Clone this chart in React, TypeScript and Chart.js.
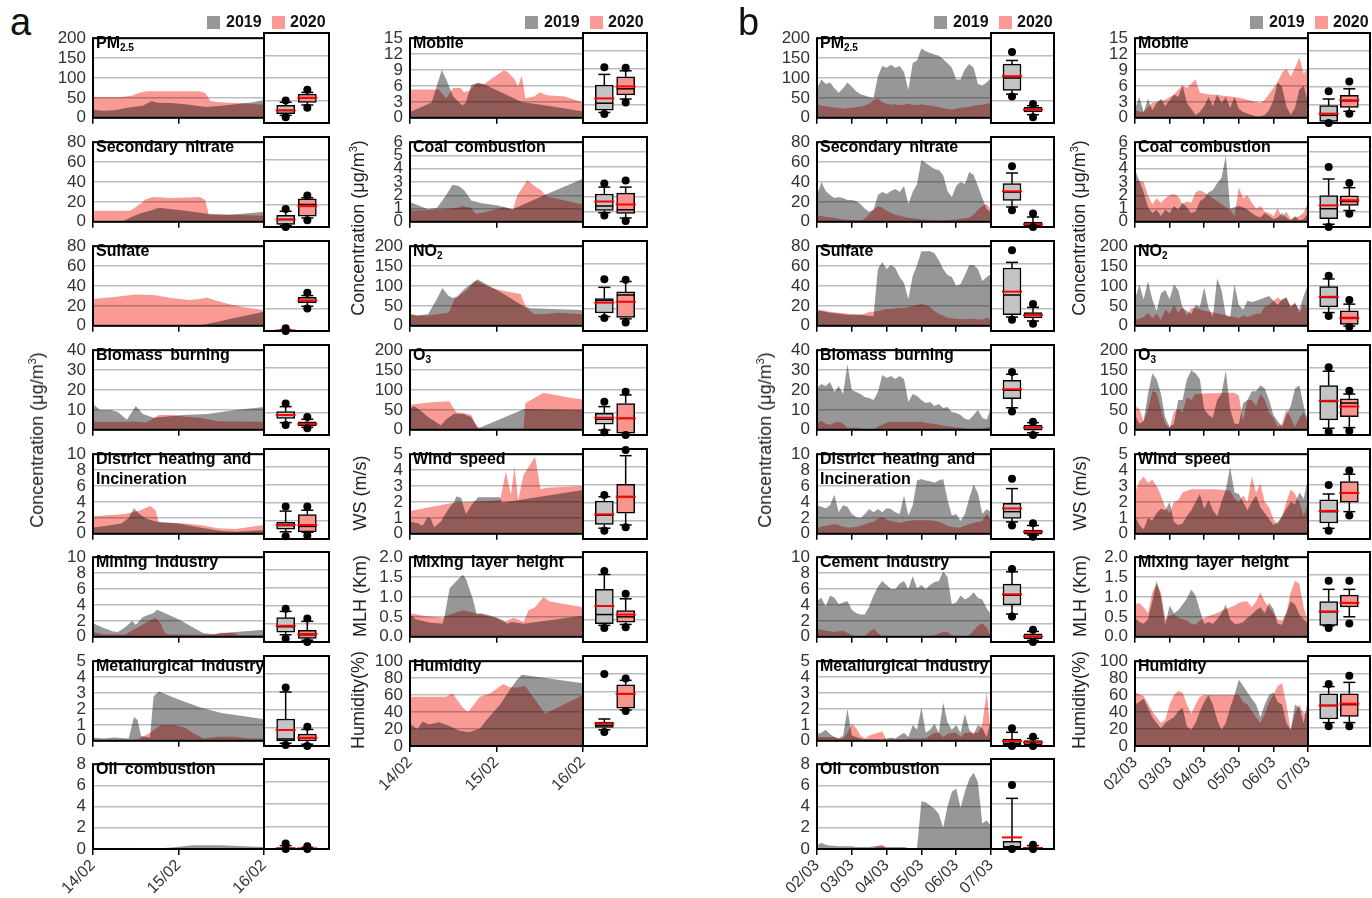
import React, { useEffect, useRef } from 'react';
import { Chart, registerables } from 'chart.js';

Chart.register(...registerables);

const FONT = '"Liberation Sans", Arial, Helvetica, sans-serif';
Chart.defaults.font.family = FONT;

// ---------- axis labels ----------
const A_X_LABELS = ['14/02', '15/02', '16/02'];
const B_X_LABELS = ['02/03', '03/03', '04/03', '05/03', '06/03', '07/03'];
const LEGEND = ['2019', '2020'];

// ---------- (a) series: [hour, value] ----------
const A_PM25_2019 = [[0,20],[3,18],[6,19],[10,26],[14,30],[16.5,42],[18,38],[22,37],[26,34],[30,29],[32,27],[36,30],[40,34],[44,38],[48,45]];
const A_PM25_2020 = [[0,52],[8,52],[11,56],[13,63],[15,67],[30,67],[31.5,62],[33,42],[35,40],[38,38],[42,37],[48,33]];
const A_NIT_2019 = [[0,0],[8,0],[11,5],[13,8],[16,11],[18.5,14],[21,13],[26,11],[32,8],[38,7],[42,8],[48,10]];
const A_NIT_2020 = [[0,11],[10.5,11],[12,15],[15,23],[17,25],[22,24],[30,25],[31.5,22],[32.5,7],[40,7],[48,6]];
const A_SUL_2019 = [[0,0],[28,0],[31,1],[35,4],[40,8],[44,11],[48,14]];
const A_SUL_2020 = [[0,27],[6,29],[12,31.5],[17,31],[22,28],[27,26],[30,27],[32,28.5],[34,26],[38,22],[42,19],[48,16]];
const A_BIO_2019 = [[0,13],[2,10],[5,10],[7,9],[9.5,5],[12,12],[14,8],[17,6],[20,6.5],[25,7.5],[32,8],[40,10],[48,11.5]];
const A_BIO_2020 = [[0,4],[12,4],[15,3.7],[18.5,7.4],[22,7.4],[26,6.5],[30,6],[35,4.3],[48,4]];
const A_DH_2019 = [[0,0.8],[4,1.0],[8,1.3],[10,2.0],[11.5,3.2],[13,2.5],[15,1.9],[18,1.5],[24,1.3],[30,0.8],[36,0.35],[40,0.25],[48,0.45]];
const A_DH_2020 = [[0,2.2],[9,2.5],[13,2.9],[16,3.5],[17.5,3.0],[18.5,1.4],[22,1.4],[26,1.3],[30,1.1],[35,0.7],[40,0.6],[48,1.1]];
const A_MIN_2019 = [[0,1.7],[2.5,1.2],[5.5,0.7],[7,0.6],[9,1.2],[11,2.0],[12,1.5],[14,2.5],[17,3.0],[18,3.4],[24,2.2],[31,0.45],[34,0.35],[40,0.6],[48,0.9]];
const A_MIN_2020 = [[0,0.6],[3,0.3],[9,0.3],[11,0.8],[15,1.8],[17.5,2.35],[19,1.7],[20,0.6],[21,0.3],[34,0.25],[36,0.5],[39,0.5],[41,0.2],[48,0.2]];
const A_MET_2019 = [[0,0.2],[3,0.15],[6,0.2],[10,0.15],[11.5,1.5],[12.5,1.3],[13.5,0.3],[16,0.2],[17,2.8],[18.5,3.1],[24,2.6],[30,2.1],[36,1.75],[42,1.55],[48,1.35]];
const A_MET_2020 = [[0,0.05],[11,0.05],[13,0.15],[16,0.5],[19,1.0],[23,1.0],[26,0.8],[28,0.5],[31,0.15],[35,0.25],[40,0.25],[44,0.15],[48,0.15]];
const A_OIL_2019 = [[0,0.05],[18,0.05],[22,0.15],[28,0.35],[36,0.35],[42,0.25],[48,0.2]];
const A_OIL_2020 = [[0,0.05],[8,0.08],[10,0.12],[12,0.05],[48,0.05]];

const A_MOB_2019 = [[0,1.1],[3,2],[6,2.9],[8.8,9.0],[10,7.3],[12,4],[14.5,2.3],[15.5,2.9],[17,6.2],[19,6.6],[21,6.2],[31,3.0],[40,2.1],[48,1.2]];
const A_MOB_2020 = [[0,5.35],[8,5.35],[10,3.7],[12,5.6],[14,5.6],[15,4.8],[16.5,5.1],[18.5,6.5],[20.5,6.3],[22.5,7.3],[26,8.9],[27,8.7],[29,7.3],[30,5.9],[31,8],[32,3.7],[34.5,4],[36,4.8],[38,4.25],[43,4],[48,2.9]];
const A_COAL_2019 = [[0,1.5],[5,0.95],[7.5,1.05],[10,2.0],[11.8,2.8],[13.5,2.7],[15,2.4],[17,1.6],[20,1.4],[24,1.25],[27,1.05],[28.5,0.95],[38,2.1],[48,3.25]];
const A_COAL_2020 = [[0,0.85],[8,0.9],[13,1.05],[14.5,1.2],[17,1.05],[18.2,0.6],[20.5,0.7],[24,0.95],[26,1.1],[28.5,0.9],[29.8,2.0],[31,2.5],[32.6,3.15],[34.5,2.7],[36.3,2.4],[38,1.9],[48,1.3]];
const A_NO2_2019 = [[0,29],[2,26],[5,29],[7.6,70],[9,95],[10.5,77],[11.8,70],[13,73],[15,92],[18.7,117],[26,80],[31.7,48],[33.5,44],[48,40]];
const A_NO2_2020 = [[0,29],[2,26],[5,26],[10.5,33],[11,37],[12.3,66],[15,84],[16,92],[17.8,110],[18.7,112],[21.5,99],[24,92],[28,84],[30.7,80],[32.1,48],[34.4,29],[37,29],[41,33],[48,29]];
const A_O3_2019 = [[0,54],[1.2,59],[3.5,44],[4.9,33],[8.6,11],[10,26],[12.3,41],[15,39],[16.9,32],[19,4],[31.7,52],[48,50]];
const A_O3_2020 = [[0,63],[6,69],[10.9,72],[12.8,44],[15,42],[17,37],[18.5,7],[20,3],[31.5,3],[32,67],[37,93],[44,81],[48,76]];
const A_WS_2019 = [[0,0.78],[2,0.68],[3.5,0.5],[4.9,1.06],[5.8,0.93],[6.7,0.41],[8.6,0.78],[10,1.33],[11.4,1.8],[12.3,2.0],[12.8,2.35],[14.2,2.26],[15.1,1.52],[15.6,1.24],[17,1.8],[18.9,2.3],[25,2.3],[25.5,1.95],[48,2.75]];
const A_WS_2020 = [[0,1.43],[12,1.95],[25,2.1],[26.6,3.9],[28,2.45],[29,4.2],[30,2.1],[31.5,3.7],[34.7,4.85],[36.2,2.8],[38,2.9],[48,3.0]];
const A_MLH_2019 = [[0,0.56],[1.6,0.44],[5.3,0.36],[9,0.33],[9.5,0.48],[11,1.22],[13.7,1.48],[14.7,1.56],[15.6,1.44],[17.5,0.93],[18.5,0.56],[19.4,0.59],[21.3,0.56],[24,0.48],[26,0.41],[26.9,0.33],[28.3,0.37],[31.5,0.33],[48,0.53]];
const A_MLH_2020 = [[0,0.59],[4.4,0.52],[9,0.48],[11,0.56],[14.7,0.67],[16.5,0.63],[18.5,0.59],[21.3,0.52],[24,0.48],[26,0.37],[28.8,0.48],[31.5,0.37],[32.9,0.67],[34.7,0.74],[37,1.0],[38.8,0.89],[48,0.74]];
const A_HUM_2019 = [[0,26.5],[2,20],[3.5,29],[5.3,25.5],[8,28],[10.9,23.6],[13.7,18],[16.5,16.4],[19.4,20.7],[21.3,31],[25,49],[27.8,67],[29.7,78],[31,84],[48,74]];
const A_HUM_2020 = [[0,58],[10,58],[11.8,62],[14.7,45],[16.1,40],[19.4,58],[22.2,62],[25.9,73],[27.8,69],[30,69],[31.9,71],[37.5,38],[48,60]];

// ---------- (b) series: one value every 3 h ----------
const B_PM25_2019 = [74,96,85,89,74,63,74,89,78,67,59,56,52,50,104,130,126,133,126,130,115,70,137,144,174,167,163,159,156,148,137,126,96,96,122,135,126,85,81,89,100];
const B_PM25_2020 = [34,31,29,27,26,25,23,24,25,27,28,31,36,44,48,40,35,33,34,32,33,35,33,32,34,32,31,29,27,24,22,21,23,25,26,28,30,32,33,35,38];
const B_NIT_2019 = [27,40,31,27,24,25,24,22,22,21,18,13,10,12,27,30,28,31,33,30,36,18,30,38,62,59,56,53,52,47,31,25,36,40,38,50,47,36,24,13,9];
const B_NIT_2020 = [6,6,5,4.5,4,3,2.5,2,1.8,1.5,1.5,3,8,12,16,14,11,9,7,6,5,4,3.6,3,2.4,2,1.8,1.5,1.5,1.5,1.8,2,2.4,3,3.5,4.4,7,12,16,18,12];
const B_SUL_2019 = [15,15,14,13,12.5,12,11.5,11,11,11,11,10.5,10,9.5,57,64,57,61,58,49,43,27,50,61,75,75,75,73,66,57,51,49,40,42,51,61,61,57,45,49,52];
const B_SUL_2020 = [17,16,15,14,13.5,13,12.5,12,11.5,11.5,11,12,14,14,15,16,17,17,17.5,18,18,19,20,21,22,21,19,15,12,10,8,7.5,7,6.5,6.5,7,7,6.5,6,8,6.5];
const B_BIO_2019 = [21,23,22,24,19,22,18,33,20,19,18,16.5,16,15,19,27.5,26,27,25.5,27,25.5,14,18,17,15,13.5,14,12,13,11,11.5,9,8.5,7.5,5.5,5,7.5,10,6,5,11];
const B_BIO_2020 = [3.3,4.5,3,2.5,3.5,4,3,1,1,1,0.5,0.3,0.3,0.3,1.5,2.5,3.5,4,4,4,4,4,4,4,4,3.5,3.2,3,2.5,2.2,1.8,1.5,1.2,1,0.5,0.3,0.3,0.3,0.3,1,1.8];
const B_DH_2019 = [3.6,3.4,3.2,3.6,4.9,2.7,3.6,3.4,2.5,2.1,2,2.5,3.1,2.7,3.1,2.7,3.2,3.1,2.7,2.5,4.8,2.3,3.6,6.7,6.9,6.7,6.6,6.4,6.7,6.9,4.3,2.3,2.5,1.6,2.5,4.5,6.2,5.1,2.5,3.1,2.7];
const B_DH_2020 = [0.8,0.9,1,1.1,1.2,1.1,0.9,0.8,0.8,0.9,1,1.2,1.4,1.5,1.9,2.1,1.8,1.6,1.5,1.4,1.5,1.6,1.7,1.7,1.7,1.7,1.7,1.6,1.5,1.3,1,0.9,0.8,0.8,1,1.2,1.4,1.5,1.6,2.5,1.7];
const B_CEM_2019 = [4.5,4.9,3.8,5.2,4.9,4.1,4.3,4.5,3.4,3,2.8,2.8,3.8,5.2,6.3,7,6.5,6,6,6.7,7,6,7.6,6.1,6.5,6,6.5,6.9,7,8.2,7.5,4.1,4.3,5.2,4.7,5,5.6,4.9,4.7,3.6,2.8];
const B_CEM_2020 = [1,0.9,0.8,0.7,0.6,0.7,0.8,0.5,0.2,0,0,0.1,0.6,1,0.5,0,0,0,0,0,0,0,0,0,0,0,0,0.2,0.4,0.6,0.6,0.2,0,0,0,0.2,0.8,1.4,1.7,1.2,0];
const B_MET_2019 = [0.42,0.5,0.7,0.42,0.24,0.15,0.33,2,0.33,0.24,0.15,0.1,0.1,0.1,0.1,0.1,0.15,0.2,0.15,0.33,0.5,0.24,1,0.7,2.1,0.5,0.7,1.07,0.5,2.4,1.16,0.7,1,0.5,1.7,0.7,0.4,1,0.8,0.24,1.35];
const B_MET_2020 = [0.24,0.24,0.24,0.24,0.24,0.15,0.15,0.5,1.07,0.8,0.33,0.15,0.33,0.42,0.5,0.6,0.05,0.1,0.1,0.1,0.1,0.15,0.15,0.15,0.15,0.15,0.33,0.5,0.5,0.24,0.42,0.5,0.5,0.24,0.5,0.5,0.5,0.5,1,3.1,0.3];
const B_OIL_2019 = [0.32,0.6,0.4,0.3,0.3,0.25,0.25,0.25,0.25,0.2,0.2,0.2,0.2,0.25,0.25,0.25,0.2,0.2,0.2,0.2,0.2,0.1,0.1,0.1,4.5,4.4,4.1,3.8,3.3,2,4.0,5.4,5.7,3.9,5.4,6.6,7.2,6.3,2.4,2.7,2.2];
const B_OIL_2020 = [0.05,0.05,0.05,0.05,0.05,0.05,0.05,0.05,0.05,0.05,0.05,0.05,0.05,0.05,0.3,0.4,0.05,0.05,0.05,0.05,0.05,0.05,0.05,0.05,0.05,0.05,0.05,0.05,0.05,0.05,0.05,0.05,0.05,0.05,0.05,0.05,0.05,0.05,0.05,0.05,0.05];

const B_MOB_2019 = [1.7,3.9,1.1,3.6,1.4,2.8,3.6,2.2,3.3,4.4,3.9,6.1,2.8,1.7,0.55,1.1,2.2,3.9,2.2,4.4,2.8,3.9,1.9,3.9,1.7,1.1,0.8,0.55,0.3,0.3,0.55,1.4,3.3,6.7,5.8,2.2,0.55,1.9,5.3,6.1,2.8];
const B_MOB_2020 = [1.4,1.2,1.1,2,2.8,3,3.2,3.4,3.9,4.4,5.3,6.1,5.6,6.4,7.2,4.7,4.6,4.4,4.4,4.3,4.2,4.1,4.0,3.9,3.8,3.6,3.4,3.2,3.0,2.8,3.4,4.5,5.6,6.8,8.5,9.2,7.8,9.4,11.4,8.3,9.4];
const B_COAL_2019 = [3.9,3.1,2.2,1.1,0.67,0.9,0.44,0.9,0.67,1.2,0.9,1.44,1.1,0.67,0.78,1.55,1.78,2.2,2.4,2.9,3.3,5.0,1.0,1.1,1.2,1.1,0.9,0.67,0.44,0.33,0.67,0.44,0.22,0.33,0.67,0.33,0.1,0.44,0.1,0.22,0.67];
const B_COAL_2020 = [3.1,3.1,3.0,2.0,1.3,1.78,1.44,1.78,2.0,2.1,1.9,1.33,1.55,1.44,2.2,2.4,2.2,2.0,1.78,1.55,1.33,1.1,0.9,0.44,2.6,1.78,2.0,1.44,1.0,1.2,0.78,0.67,0.44,1.0,0.33,0.78,0.22,0.33,0.44,0.7,1.44];
const B_NO2_2019 = [67,104,67,112,67,37,82,90,67,104,90,45,37,30,52,48,97,45,22,119,90,26,22,104,52,41,63,60,63,67,71,75,63,52,67,71,48,56,41,75,104];
const B_NO2_2020 = [15,18,22,33,19,30,15,41,30,52,33,48,26,45,45,41,38,36,34,31,29,27,24,22,19,26,22,26,30,30,48,52,63,71,63,71,48,60,33,52,41];
const B_O3_2019 = [37,15,22,90,142,127,90,30,7,15,75,75,127,149,142,127,52,37,30,75,90,149,52,15,15,67,75,97,97,112,104,75,37,22,7,37,60,104,112,60,22];
const B_O3_2020 = [60,52,22,52,97,93,52,15,4,45,52,45,82,75,90,90,91,92,92,92,93,93,93,93,86,22,75,75,60,90,75,45,30,7,15,52,30,7,30,45,15];
const B_WS_2019 = [1.1,0.55,0.28,1.0,0.83,1.3,1.57,1.48,2.0,0.74,0.55,0.65,1.1,1.48,2.0,2.5,1.57,2.13,1.48,1.1,2.0,2.78,4.2,2.6,2.5,2.0,1.48,2.0,2.4,1.67,1.3,0.93,0.55,0.74,1.1,1.57,2.0,1.85,2.6,2.2,3.5];
const B_WS_2020 = [2.6,3.3,3.6,3.2,3.4,3.0,2.4,1.67,1.3,2.0,2.1,2.6,2.7,2.8,2.8,2.8,2.8,2.8,2.8,2.78,2.76,2.74,2.72,2.2,2.0,2.4,2.0,3.6,2.6,3.15,2.0,1.67,0.93,0.55,1.1,2.0,2.78,2.5,2.0,1.1,2.0];
const B_MLH_2019 = [0.48,0.37,0.33,0.44,0.89,1.4,1.0,0.3,0.78,0.59,0.67,0.81,0.96,1.19,1.04,0.67,0.33,0.37,0.33,0.44,0.59,0.81,0.44,0.33,0.33,0.37,0.48,0.56,0.67,0.74,0.59,0.85,0.7,0.33,0.3,0.59,0.89,0.81,0.56,0.44,0.33];
const B_MLH_2020 = [0.81,0.85,0.74,0.59,1.11,1.33,1.11,0.44,0.52,0.56,0.48,0.44,0.41,0.33,0.3,0.41,0.48,0.52,0.56,0.6,0.65,0.7,0.74,0.78,0.85,0.89,0.89,0.74,0.89,1.11,0.89,0.74,0.59,0.44,0.41,0.59,1.11,1.41,1.33,0.74,0.37];
const B_HUM_2019 = [49,52,56,45,34,27,21,27,31,34,41,45,23,19,27,41,52,60,49,31,19,27,45,60,78,71,63,56,49,34,49,60,63,52,49,27,19,49,45,27,56];
const B_HUM_2020 = [63,61,59,50,41,34,27,31,49,60,65,63,49,38,49,58,60,60,60,60,60,60,60,60,60,52,49,41,34,27,38,52,60,71,74,49,19,38,49,38,41];

// ---------- box stats: [dotLow, capLow, q1, median, q3, capHigh, dotHigh, mean] for 2019, 2020 ----------
const BOX_A_PM25 = [[13,17,20.5,28,39,46,50,28],[34,40,46,56,64,68,74,56]];
const BOX_A_NIT = [[0,1.5,2.3,6.7,10.3,14,16,6.7],[6,8,9.7,20,25,26,28,18.5]];
const BOX_A_SUL = [[0,0,0,0.2,0.5,1.2,2.5,0.5],[20,22,25,27,30,31.5,34,27]];
const BOX_A_BIO = [[4.4,5.5,7.4,8.9,10.4,12.6,14,8.9],[3,3.4,4,4.9,5.9,7,8,4.9]];
const BOX_A_DH = [[0.3,0.8,1.1,1.5,1.85,3.1,3.6,1.55],[0.4,0.75,0.8,1.4,2.7,3.2,3.6,1.55]];
const BOX_A_MIN = [[0.4,0.8,1.1,1.7,2.7,3.4,3.7,1.8],[0,0.2,0.4,0.8,1.3,2.3,2.6,0.9]];
const BOX_A_MET = [[0.05,0.15,0.28,0.39,1.5,3.0,3.25,0.89],[0,0.1,0.28,0.45,0.66,0.92,1.07,0.46]];
const BOX_A_OIL = [[0,0,0,0.05,0.1,0.3,0.5,0.05],[0,0,0,0.03,0.06,0.15,0.25,0.05]];
const BOX_A_MOB = [[1.5,1.75,2.15,3.3,6.3,8.1,9.3,4.1],[3.4,4.0,4.7,5.7,7.7,8.7,9.2,6.1]];
const BOX_A_COAL = [[0.77,0.95,1.1,1.4,2.2,2.66,2.9,1.7],[0.4,0.6,0.9,1.15,2.26,2.66,3.1,1.5]];
const BOX_A_NO2 = [[29,32,40,68,72,97,115,63],[19,27,30,80,87,110,114,65]];
const BOX_A_O3 = [[6,11,24,35,48,63,74,38.5],[0,1,4,37,70,89,96,37]];
const BOX_A_WS = [[0.46,0.6,0.81,1.33,2.1,2.35,2.44,1.37],[0.65,0.78,1.43,2.35,3.04,4.63,4.94,2.35]];
const BOX_A_MLH = [[0.31,0.37,0.41,0.61,1.17,1.5,1.58,0.8],[0.33,0.39,0.44,0.56,0.7,0.96,1.07,0.61]];
const BOX_A_HUM = [[15.6,18,20.7,23,26.5,30,80,25],[39,40,42,58,68,73,75,58]];

const BOX_B_PM25 = [[59,64,72.6,100,131,139,158,104],[13,18.5,24.4,29.6,35,38.5,42,29.6]];
const BOX_B_NIT = [[14.8,17.8,23.7,31,38.5,48,54,31.7],[0,0,0.9,2.4,4.4,8.9,11.9,2.4]];
const BOX_B_SUL = [[10,12.4,14.5,32,56,61,71.7,35],[6.5,8.9,11.6,14,16.3,21,24,14]];
const BOX_B_BIO = [[10.4,12.1,16.1,19.9,24.3,27,28,20.3],[0,1,2.1,3.3,4.4,5.5,5.9,3.3]];
const BOX_B_DH = [[1.5,1.9,2.3,3.04,3.96,5.6,6.7,3.4],[0.26,0.44,0.55,0.81,1.0,1.5,1.74,0.81]];
const BOX_B_CEM = [[2.83,3.1,4.12,5.2,6.43,7.8,8.1,5.3],[0,0.18,0.37,0.62,0.92,1.18,1.36,0.62]];
const BOX_B_MET = [[0,0,0.06,0.15,0.39,0.76,0.98,0.28],[0,0,0.06,0.2,0.3,0.42,0.52,0.2]];
const BOX_B_OIL = [[0,0,0,0.2,0.68,4.5,5.7,1.03],[0,0,0,0.05,0.15,0.3,0.38,0.08]];
const BOX_B_MOB = [[0,0.1,0.28,1.28,2.9,4.0,5.3,1.56],[1.56,1.94,2.6,3.7,4.6,5.7,6.9,3.8]];
const BOX_B_COAL = [[0,0.18,0.56,1.22,2.1,3.2,4.0,1.44],[0.89,1.1,1.44,1.7,2.07,2.62,2.93,1.78]];
const BOX_B_NO2 = [[33.6,41,53.7,74.6,98.5,115.7,123,76],[9,11,14.9,29.8,44.8,59.7,68.7,28.4]];
const BOX_B_O3 = [[7.5,15,33.6,74.6,110,141.8,150.7,76],[9,16.4,41,71,80.6,91,98.5,63.4]];
const BOX_B_WS = [[0.46,0.59,0.89,1.52,2.17,2.5,3.0,1.56],[1.3,1.52,2.04,2.56,3.19,3.6,3.8,2.56]];
const BOX_B_MLH = [[0.31,0.36,0.37,0.67,0.9,1.17,1.36,0.68],[0.41,0.56,0.78,0.87,1.04,1.17,1.36,0.87]];
const BOX_B_HUM = [[22,26,30,45,58,66,69,45],[22,26,33,46,58,70.7,78,47]];

// ---------- styling ----------
const GRAY = '#979797';
const RED = '#f99a94';
const BOX_GRAY = '#c4c4c4';
const BOX_RED = '#f8958f';
const GRID = '#bcbcbc';
const TICK_COLOR = '#333';

const ROW_TOP = [33, 137, 241, 345, 449, 552, 656, 759];
const PH = 90;

const pairs = (p: number[][]) => p.map(([x, y]) => ({ x, y }));
const every3 = (v: number[]) => v.map((y, i) => ({ x: i * 3, y }));

type Panel = { title: string; max: number; step: number; dec?: number; s19: any[]; s20: any[]; box: number[][] };

const A_LEFT: Panel[] = [
  { title: 'PM|2.5', max: 200, step: 50, s19: pairs(A_PM25_2019), s20: pairs(A_PM25_2020), box: BOX_A_PM25 },
  { title: 'Secondary nitrate', max: 80, step: 20, s19: pairs(A_NIT_2019), s20: pairs(A_NIT_2020), box: BOX_A_NIT },
  { title: 'Sulfate', max: 80, step: 20, s19: pairs(A_SUL_2019), s20: pairs(A_SUL_2020), box: BOX_A_SUL },
  { title: 'Biomass burning', max: 40, step: 10, s19: pairs(A_BIO_2019), s20: pairs(A_BIO_2020), box: BOX_A_BIO },
  { title: 'District heating and\nIncineration', max: 10, step: 2, s19: pairs(A_DH_2019), s20: pairs(A_DH_2020), box: BOX_A_DH },
  { title: 'Mining Industry', max: 10, step: 2, s19: pairs(A_MIN_2019), s20: pairs(A_MIN_2020), box: BOX_A_MIN },
  { title: 'Metallurgical Industry', max: 5, step: 1, s19: pairs(A_MET_2019), s20: pairs(A_MET_2020), box: BOX_A_MET },
  { title: 'Oil combustion', max: 8, step: 2, s19: pairs(A_OIL_2019), s20: pairs(A_OIL_2020), box: BOX_A_OIL },
];
const A_RIGHT: Panel[] = [
  { title: 'Mobile', max: 15, step: 3, s19: pairs(A_MOB_2019), s20: pairs(A_MOB_2020), box: BOX_A_MOB },
  { title: 'Coal combustion', max: 6, step: 1, s19: pairs(A_COAL_2019), s20: pairs(A_COAL_2020), box: BOX_A_COAL },
  { title: 'NO|2', max: 200, step: 50, s19: pairs(A_NO2_2019), s20: pairs(A_NO2_2020), box: BOX_A_NO2 },
  { title: 'O|3', max: 200, step: 50, s19: pairs(A_O3_2019), s20: pairs(A_O3_2020), box: BOX_A_O3 },
  { title: 'Wind speed', max: 5, step: 1, s19: pairs(A_WS_2019), s20: pairs(A_WS_2020), box: BOX_A_WS },
  { title: 'Mixing layer height', max: 2, step: 0.5, dec: 1, s19: pairs(A_MLH_2019), s20: pairs(A_MLH_2020), box: BOX_A_MLH },
  { title: 'Humidity', max: 100, step: 20, s19: pairs(A_HUM_2019), s20: pairs(A_HUM_2020), box: BOX_A_HUM },
];
const B_LEFT: Panel[] = [
  { title: 'PM|2.5', max: 200, step: 50, s19: every3(B_PM25_2019), s20: every3(B_PM25_2020), box: BOX_B_PM25 },
  { title: 'Secondary nitrate', max: 80, step: 20, s19: every3(B_NIT_2019), s20: every3(B_NIT_2020), box: BOX_B_NIT },
  { title: 'Sulfate', max: 80, step: 20, s19: every3(B_SUL_2019), s20: every3(B_SUL_2020), box: BOX_B_SUL },
  { title: 'Biomass burning', max: 40, step: 10, s19: every3(B_BIO_2019), s20: every3(B_BIO_2020), box: BOX_B_BIO },
  { title: 'District heating and\nIncineration', max: 10, step: 2, s19: every3(B_DH_2019), s20: every3(B_DH_2020), box: BOX_B_DH },
  { title: 'Cement Industry', max: 10, step: 2, s19: every3(B_CEM_2019), s20: every3(B_CEM_2020), box: BOX_B_CEM },
  { title: 'Metallurgical Industry', max: 5, step: 1, s19: every3(B_MET_2019), s20: every3(B_MET_2020), box: BOX_B_MET },
  { title: 'Oil combustion', max: 8, step: 2, s19: every3(B_OIL_2019), s20: every3(B_OIL_2020), box: BOX_B_OIL },
];
const B_RIGHT: Panel[] = [
  { title: 'Mobile', max: 15, step: 3, s19: every3(B_MOB_2019), s20: every3(B_MOB_2020), box: BOX_B_MOB },
  { title: 'Coal combustion', max: 6, step: 1, s19: every3(B_COAL_2019), s20: every3(B_COAL_2020), box: BOX_B_COAL },
  { title: 'NO|2', max: 200, step: 50, s19: every3(B_NO2_2019), s20: every3(B_NO2_2020), box: BOX_B_NO2 },
  { title: 'O|3', max: 200, step: 50, s19: every3(B_O3_2019), s20: every3(B_O3_2020), box: BOX_B_O3 },
  { title: 'Wind speed', max: 5, step: 1, s19: every3(B_WS_2019), s20: every3(B_WS_2020), box: BOX_B_WS },
  { title: 'Mixing layer height', max: 2, step: 0.5, dec: 1, s19: every3(B_MLH_2019), s20: every3(B_MLH_2020), box: BOX_B_MLH },
  { title: 'Humidity', max: 100, step: 20, s19: every3(B_HUM_2019), s20: every3(B_HUM_2020), box: BOX_B_HUM },
];

type Col = { left: number; div: number; right: number; hours: number; xl: string[]; panels: Panel[] };
const COLS: Col[] = [
  { left: 93, div: 264, right: 329, hours: 48, xl: A_X_LABELS, panels: A_LEFT },
  { left: 410, div: 583, right: 647, hours: 48, xl: A_X_LABELS, panels: A_RIGHT },
  { left: 817, div: 991, right: 1054, hours: 120, xl: B_X_LABELS, panels: B_LEFT },
  { left: 1135, div: 1308, right: 1370, hours: 120, xl: B_X_LABELS, panels: B_RIGHT },
];

// ---------- plugins ----------
const multiplyPlugin = {
  id: 'multiplyFill',
  beforeDatasetsDraw(chart: any) {
    chart.ctx.save();
    chart.ctx.globalCompositeOperation = 'multiply';
  },
  afterDatasetsDraw(chart: any) {
    chart.ctx.restore();
  },
};

const framePlugin = {
  id: 'frame',
  afterDraw(chart: any) {
    const { ctx, chartArea: a } = chart;
    ctx.save();
    ctx.strokeStyle = '#000';
    ctx.lineWidth = 2;
    ctx.strokeRect(a.left, a.top, a.right - a.left, a.bottom - a.top);
    ctx.restore();
  },
};

const BOX_W = 18;
const boxStatsPlugin = {
  id: 'boxStats',
  afterDatasetsDraw(chart: any, _args: any, opts: any) {
    const { ctx } = chart;
    const xs = chart.scales.x;
    const ys = chart.scales.y;
    const stats: number[][] = opts.stats || [];
    const line = (x1: number, y1: number, x2: number, y2: number) => {
      ctx.beginPath();
      ctx.moveTo(x1, y1);
      ctx.lineTo(x2, y2);
      ctx.stroke();
    };
    ctx.save();
    stats.forEach((s, i) => {
      const [dLo, cLo, q1, med, q3, cHi, dHi, mean] = s;
      const cx = xs.getPixelForValue(i + 1);
      const yp = (v: number) => ys.getPixelForValue(v);
      const h = BOX_W / 2;
      ctx.strokeStyle = '#000';
      ctx.lineWidth = 1.5;
      line(cx, yp(q3), cx, yp(cHi));
      line(cx, yp(q1), cx, yp(cLo));
      line(cx - 6, yp(cHi), cx + 6, yp(cHi));
      line(cx - 6, yp(cLo), cx + 6, yp(cLo));
      line(cx - h, yp(med), cx + h, yp(med));
      ctx.strokeStyle = '#ff0000';
      ctx.lineWidth = 2;
      line(cx - h - 1, yp(mean), cx + h + 1, yp(mean));
      ctx.fillStyle = '#000';
      [dLo, dHi].forEach((d) => {
        ctx.beginPath();
        ctx.arc(cx, yp(d), 4, 0, Math.PI * 2);
        ctx.fill();
      });
    });
    ctx.restore();
  },
};

const yTicks = (max: number, step: number) => {
  const out: number[] = [];
  for (let v = 0; v <= max + 1e-9; v += step) out.push(Math.round(v * 1000) / 1000);
  return out;
};

// ---------- chart components ----------
function AreaChart({ col, panel, row, bottom }: { col: Col; panel: Panel; row: number; bottom: boolean }) {
  const ref = useRef<HTMLCanvasElement>(null);
  const AXW = 52, PT = 12, PR = 16;
  const PB = bottom ? 66 : 12;
  const pw = col.div - col.left;
  const w = AXW + pw + PR;
  const h = PT + PH + PB;
  useEffect(() => {
    const yt = yTicks(panel.max, panel.step);
    const xt = col.xl.map((_, i) => i * 24);
    const chart = new Chart(ref.current as HTMLCanvasElement, {
      type: 'line',
      data: {
        datasets: [
          { label: LEGEND[0], data: panel.s19, backgroundColor: GRAY, borderColor: 'rgba(0,0,0,0)', borderWidth: 0, pointRadius: 0, fill: 'origin', tension: 0 },
          { label: LEGEND[1], data: panel.s20, backgroundColor: RED, borderColor: 'rgba(0,0,0,0)', borderWidth: 0, pointRadius: 0, fill: 'origin', tension: 0 },
        ],
      },
      options: {
        animation: false,
        responsive: false,
        devicePixelRatio: 1,
        events: [],
        layout: { padding: { top: PT, right: PR, bottom: 0, left: 0 } },
        plugins: { legend: { display: false }, tooltip: { enabled: false } },
        scales: {
          x: {
            type: 'linear',
            min: 0,
            max: col.hours,
            afterBuildTicks: (s: any) => { s.ticks = xt.map((v) => ({ value: v })); },
            afterFit: (s: any) => { s.height = PB; },
            ticks: {
              display: bottom,
              autoSkip: false,
              minRotation: 45,
              maxRotation: 45,
              padding: 1,
              color: TICK_COLOR,
              font: { size: 16, family: FONT },
              callback: (v: any) => col.xl[Math.round(Number(v) / 24)],
            },
            grid: { drawOnChartArea: false, drawTicks: true, tickLength: 6, color: '#000', lineWidth: 1.5 },
            border: { display: false },
          },
          y: {
            type: 'linear',
            min: 0,
            max: panel.max,
            afterBuildTicks: (s: any) => { s.ticks = yt.map((v) => ({ value: v })); },
            afterFit: (s: any) => { s.width = AXW; },
            ticks: {
              autoSkip: false,
              padding: 7,
              color: TICK_COLOR,
              font: { size: 17, family: FONT },
              callback: (v: any) => (panel.dec ? Number(v).toFixed(panel.dec) : String(v)),
            },
            grid: { color: GRID, lineWidth: 1.5, drawTicks: false },
            border: { display: false },
          },
        },
      },
      plugins: [multiplyPlugin, framePlugin],
    } as any);
    return () => chart.destroy();
  }, []);
  return (
    <canvas
      ref={ref}
      width={w}
      height={h}
      style={{ position: 'absolute', left: col.left - AXW, top: ROW_TOP[row] - PT, width: w, height: h }}
    />
  );
}

function BoxChart({ col, panel, row }: { col: Col; panel: Panel; row: number }) {
  const ref = useRef<HTMLCanvasElement>(null);
  const PL = 4, PT = 12, PR = 4, PB = 4;
  const w = PL + (col.right - col.div) + PR;
  const h = PT + PH + PB;
  useEffect(() => {
    const yt = yTicks(panel.max, panel.step);
    const [b19, b20] = panel.box;
    const chart = new Chart(ref.current as HTMLCanvasElement, {
      type: 'bar',
      data: {
        labels: ['', LEGEND[0], LEGEND[1], ''],
        datasets: [
          {
            data: [null, [b19[2], b19[4]], [b20[2], b20[4]], null],
            backgroundColor: ['rgba(0,0,0,0)', BOX_GRAY, BOX_RED, 'rgba(0,0,0,0)'],
            borderColor: '#000',
            borderWidth: 1.5,
            borderSkipped: false,
            barThickness: BOX_W,
          },
        ],
      },
      options: {
        animation: false,
        responsive: false,
        devicePixelRatio: 1,
        events: [],
        layout: { padding: { top: PT, right: PR, bottom: PB, left: PL } },
        plugins: { legend: { display: false }, tooltip: { enabled: false }, boxStats: { stats: [b19, b20] } },
        scales: {
          x: { type: 'category', offset: false, display: false, grid: { offset: false } },
          y: {
            type: 'linear',
            min: 0,
            max: panel.max,
            afterBuildTicks: (s: any) => { s.ticks = yt.map((v) => ({ value: v })); },
            afterFit: (s: any) => { s.width = 0; },
            ticks: { display: false },
            grid: { color: GRID, lineWidth: 1.5, drawTicks: false },
            border: { display: false },
          },
        },
      },
      plugins: [boxStatsPlugin, framePlugin],
    } as any);
    return () => chart.destroy();
  }, []);
  return (
    <canvas
      ref={ref}
      width={w}
      height={h}
      style={{ position: 'absolute', left: col.div - PL, top: ROW_TOP[row] - PT, width: w, height: h }}
    />
  );
}

// ---------- text overlays ----------
function TitleText({ text, left, top }: { text: string; left: number; top: number }) {
  const lines = text.split('\n');
  return (
    <div style={{ position: 'absolute', left, top, fontWeight: 'bold', fontSize: 16, lineHeight: '20px', wordSpacing: 3, color: '#000', whiteSpace: 'pre', pointerEvents: 'none' }}>
      {lines.map((ln, i) => {
        const [main, sub] = ln.split('|');
        return (
          <div key={i}>
            {main}
            {sub ? <sub style={{ fontSize: 10, verticalAlign: '-3px', lineHeight: 0 }}>{sub}</sub> : null}
          </div>
        );
      })}
    </div>
  );
}

function VLabel({ x, y, children }: { x: number; y: number; children: React.ReactNode }) {
  return (
    <div style={{ position: 'absolute', left: x, top: y, transform: 'translate(-50%, -50%) rotate(-90deg)', whiteSpace: 'nowrap', fontSize: 18, lineHeight: '20px', color: '#222' }}>
      {children}
    </div>
  );
}

const Conc = () => (
  <>
    Concentration (μg/m<sup style={{ fontSize: 11, lineHeight: 0 }}>3</sup>)
  </>
);

function Legend({ x }: { x: number }) {
  const sq = (left: number, color: string) => (
    <div style={{ position: 'absolute', left, top: 16, width: 13, height: 13, background: color }} />
  );
  const txt = (left: number, t: string) => (
    <div style={{ position: 'absolute', left, top: 14, fontSize: 16, fontWeight: 'bold', lineHeight: '16px', color: '#111' }}>{t}</div>
  );
  return (
    <>
      {sq(x, GRAY)}
      {txt(x + 19, LEGEND[0])}
      {sq(x + 65, RED)}
      {txt(x + 83, LEGEND[1])}
    </>
  );
}

export default function App() {
  return (
    <div style={{ position: 'absolute', left: 0, top: 0, width: 1372, height: 898, background: '#fff', overflow: 'hidden', fontFamily: FONT }}>
      {COLS.map((col, ci) =>
        col.panels.map((p, ri) => (
          <React.Fragment key={`${ci}-${ri}`}>
            <AreaChart col={col} panel={p} row={ri} bottom={ri === col.panels.length - 1} />
            <BoxChart col={col} panel={p} row={ri} />
          </React.Fragment>
        ))
      )}
      {COLS.map((col, ci) =>
        col.panels.map((p, ri) => (
          <TitleText key={`t-${ci}-${ri}`} text={p.title} left={col.left + 3} top={ROW_TOP[ri]} />
        ))
      )}
      <Legend x={207} />
      <Legend x={525} />
      <Legend x={934} />
      <Legend x={1250} />
      <div style={{ position: 'absolute', left: 10, top: 3, fontSize: 38, lineHeight: '38px', color: '#111' }}>a</div>
      <div style={{ position: 'absolute', left: 738, top: 3, fontSize: 38, lineHeight: '38px', color: '#111' }}>b</div>
      <VLabel x={37} y={440}><Conc /></VLabel>
      <VLabel x={358} y={228}><Conc /></VLabel>
      <VLabel x={360} y={493}>WS (m/s)</VLabel>
      <VLabel x={360} y={596}>MLH (Km)</VLabel>
      <VLabel x={358} y={700}>Humidity(%)</VLabel>
      <VLabel x={765} y={440}><Conc /></VLabel>
      <VLabel x={1079} y={228}><Conc /></VLabel>
      <VLabel x={1080} y={493}>WS (m/s)</VLabel>
      <VLabel x={1080} y={596}>MLH (Km)</VLabel>
      <VLabel x={1079} y={700}>Humidity(%)</VLabel>
    </div>
  );
}
